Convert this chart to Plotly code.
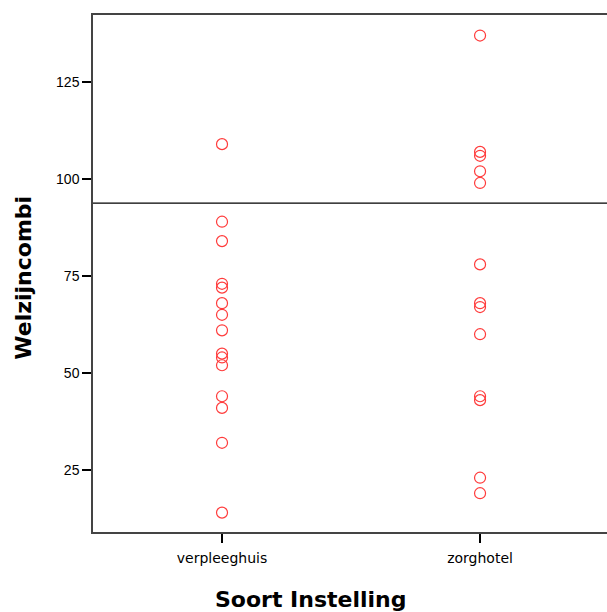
import plotly.graph_objects as go

categories = ["verpleeghuis", "zorghotel"]
verpleeghuis = [109, 89, 84, 73, 72, 68, 65, 61, 55, 54, 52, 44, 41, 32, 14]
zorghotel = [137, 107, 106, 102, 99, 78, 68, 67, 60, 44, 43, 23, 19]
ref_line = 93.8
y_ticks = [25, 50, 75, 100, 125]

fig = go.Figure()
for cat, vals in zip(categories, [verpleeghuis, zorghotel]):
    fig.add_trace(go.Scatter(
        x=[cat] * len(vals), y=vals, mode="markers",
        marker=dict(symbol="circle-open", size=11, color="#ff3b3b",
                    line=dict(width=1.2, color="#ff3b3b")),
        showlegend=False, hoverinfo="y"))

fig.add_shape(type="line", xref="paper", x0=0, x1=1, yref="y",
              y0=ref_line, y1=ref_line, line=dict(color="black", width=1.2))

fig.update_layout(
    width=607, height=612,
    margin=dict(l=93, r=0, t=15, b=80),
    paper_bgcolor="white", plot_bgcolor="white",
    xaxis=dict(type="category", categoryorder="array", categoryarray=categories,
               range=[-0.5, 1.492], showline=True, mirror=True,
               linecolor="#444", linewidth=1.5, showgrid=False, zeroline=False,
               ticks="outside", ticklen=9, tickwidth=2, tickcolor="black",
               ticklabelstandoff=3,
               tickfont=dict(family="DejaVu Sans", size=14, color="black")),
    yaxis=dict(range=[9.0, 142.3], tickvals=y_ticks, showline=True, mirror=False,
               linecolor="#444", linewidth=1.5, showgrid=False, zeroline=False,
               ticks="outside", ticklen=9, tickwidth=2, tickcolor="black",
               tickfont=dict(family="Liberation Sans", size=14, color="black")),
    annotations=[
        dict(text="<b>Welzijncombi</b>", xref="paper", yref="paper",
             x=-0.134, y=0.492, xanchor="center", yanchor="middle",
             textangle=-90, showarrow=False,
             font=dict(family="DejaVu Sans", size=22, color="black")),
        dict(text="<b>Soort Instelling</b>", xref="paper", yref="paper",
             x=0.424, y=-0.1315, xanchor="center", yanchor="middle",
             showarrow=False,
             font=dict(family="DejaVu Sans", size=22, color="black")),
    ],
)

fig.write_html(
    "out.html",
    config={"displayModeBar": False},
    post_script="document.body.style.margin='0';document.body.style.overflow='hidden';",
)
